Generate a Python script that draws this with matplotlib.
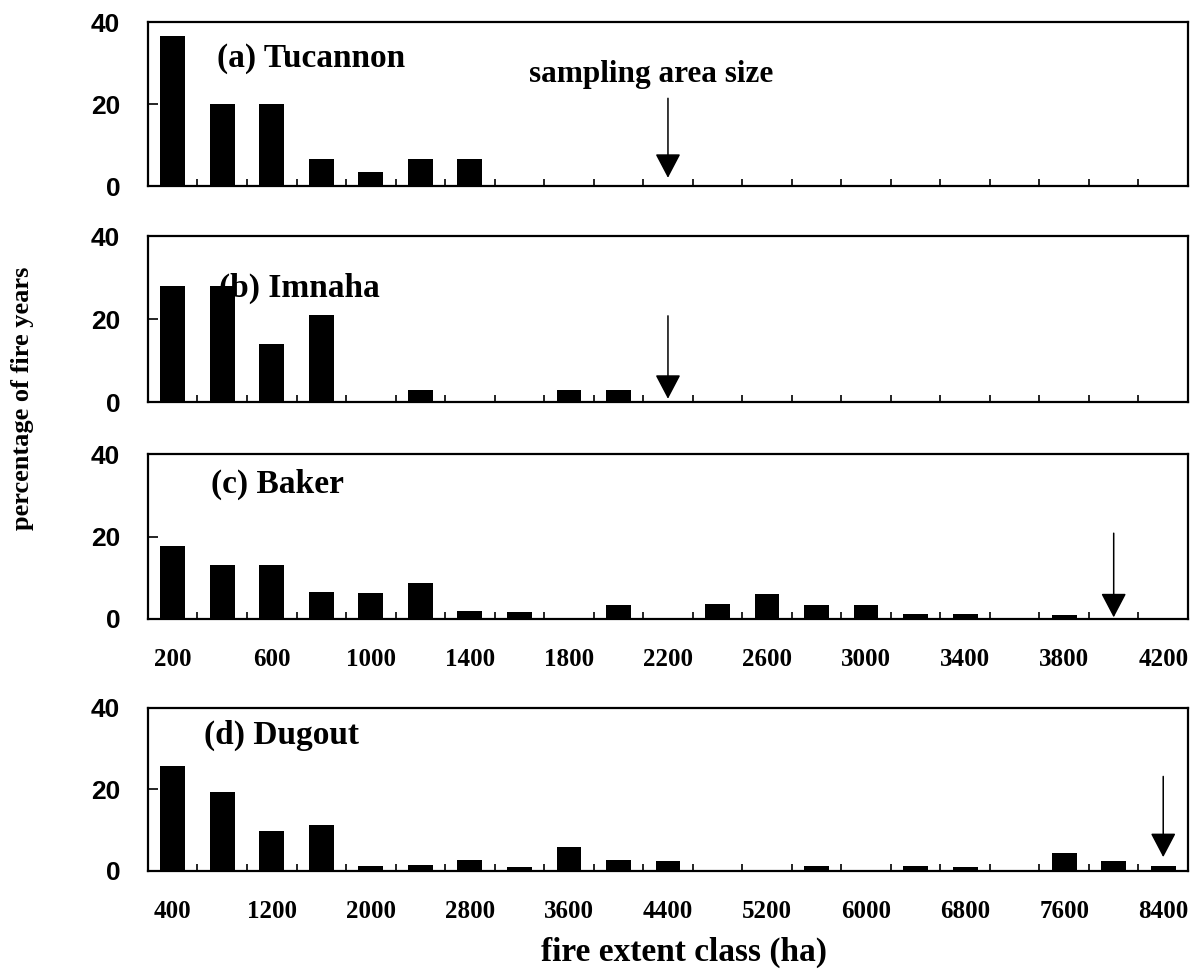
"""
Fire extent class distributions for four study areas.

Four stacked bar panels with the sampling area size marked by an arrow.
"""

import matplotlib

matplotlib.use("Agg")

import matplotlib.pyplot as plt
import numpy as np

SERIF = "Liberation Serif"
SANS = "Liberation Sans"

# fire extent classes (ha), panels a-c use 200 ha classes, panel d 400 ha
classes_200 = [200, 400, 600, 800, 1000, 1200, 1400, 1600, 1800, 2000, 2200,
               2400, 2600, 2800, 3000, 3200, 3400, 3600, 3800, 4000, 4200]
classes_400 = [400, 800, 1200, 1600, 2000, 2400, 2800, 3200, 3600, 4000, 4400,
               4800, 5200, 5600, 6000, 6400, 6800, 7200, 7600, 8000, 8400]

# percentage of fire years in each class
tucannon = [36.7, 20.0, 20.0, 6.7, 3.3, 6.7, 6.7, 0, 0, 0, 0,
            0, 0, 0, 0, 0, 0, 0, 0, 0, 0]
imnaha = [28.0, 28.0, 14.0, 21.0, 0, 3.0, 0, 0, 2.8, 2.8, 0,
          0, 0, 0, 0, 0, 0, 0, 0, 0, 0]
baker = [17.7, 13.2, 13.0, 6.5, 6.3, 8.7, 1.9, 1.6, 0, 3.4, 0,
         3.6, 6.0, 3.5, 3.3, 1.3, 1.3, 0, 1.0, 0, 0]
dugout = [25.7, 19.3, 9.7, 11.3, 1.3, 1.4, 2.8, 1.1, 6.0, 2.6, 2.5,
          0, 0, 1.2, 0, 1.2, 1.0, 0, 4.3, 2.5, 1.3]

panel_titles = ["(a) Tucannon", "(b) Imnaha", "(c) Baker", "(d) Dugout"]

# sampling area size (ha) for each panel
sampling_size = [2200, 2200, 4000, 8400]

# tick labels shown under panels c and d
labels_200 = ["200", "600", "1000", "1400", "1800", "2200",
              "2600", "3000", "3400", "3800", "4200"]
labels_400 = ["400", "1200", "2000", "2800", "3600", "4400",
              "5200", "6000", "6800", "7600", "8400"]


def draw_panel(ax, classes, values, title, sample, tick_labels, arrow_y):
    """
    One bar panel on a class-index axis.
    """
    idx = np.arange(len(classes))
    ax.bar(idx, values, width=0.5, color="black")

    ax.set_xlim(-0.5, len(classes) - 0.5)
    ax.set_ylim(0, 40)

    ax.set_yticks([0, 20, 40])
    ax.set_yticklabels(["0", "20", "40"], family=SANS, fontweight="bold",
                       fontsize=19)
    ax.tick_params(axis="y", direction="in", length=7, width=1.2, pad=20)

    ax.set_xticks(idx[::2])
    if tick_labels is None:
        ax.set_xticklabels([])
    else:
        ax.set_xticklabels(tick_labels, family=SERIF, fontweight="bold",
                           fontsize=18)
    ax.tick_params(axis="x", which="major", length=0, pad=21)
    ax.set_xticks(idx[:-1] + 0.5, minor=True)
    ax.tick_params(axis="x", which="minor", direction="in", length=5,
                   width=1.2)

    for side in ax.spines.values():
        side.set_linewidth(1.6)

    ax.text(title[1], title[2], title[0], family=SERIF, fontweight="bold",
            fontsize=24, ha="left", va="center")

    x_arrow = classes.index(sample)
    ax.annotate(
        "",
        xy=(x_arrow, arrow_y[1]),
        xytext=(x_arrow, arrow_y[0]),
        arrowprops=dict(arrowstyle="-|>,head_length=0.8,head_width=0.42",
                        mutation_scale=19, color="black", lw=1.1,
                        shrinkA=0, shrinkB=0),
    )


def main() -> None:
    fig = plt.figure(figsize=(11.96, 9.76), dpi=100)

    positions = [
        [0.1237, 0.8094, 0.8696, 0.168],
        [0.1237, 0.588, 0.8696, 0.170],
        [0.1237, 0.3658, 0.8696, 0.169],
        [0.1237, 0.1076, 0.8696, 0.167],
    ]
    series = [
        (classes_200, tucannon, None),
        (classes_200, imnaha, None),
        (classes_200, baker, labels_200),
        (classes_400, dugout, labels_400),
    ]
    # title placement (x index, y value) and arrow (tail, tip) per panel
    title_pos = [(0.9, 31.0), (0.94, 27.5), (0.78, 32.7), (0.64, 33.4)]
    arrow_ys = [(21.4, 2.0), (20.8, 0.8), (20.8, 0.4), (23.2, 3.4)]

    axes = []
    for pos, (cls, vals, labs), name, tpos, samp, ay in zip(
        positions, series, panel_titles, title_pos, sampling_size, arrow_ys
    ):
        ax = fig.add_axes(pos)
        draw_panel(ax, cls, vals, (name, tpos[0], tpos[1]), samp, labs, ay)
        axes.append(ax)

    axes[0].text(9.65, 27.3, "sampling area size", family=SERIF,
                 fontweight="bold", fontsize=22.5, ha="center", va="center")

    fig.text(0.019, 0.592, "percentage of fire years", family=SERIF,
             fontweight="bold", fontsize=19, rotation=90,
             ha="center", va="center")
    fig.text(0.572, 0.024, "fire extent class (ha)", family=SERIF,
             fontweight="bold", fontsize=24, ha="center", va="center")

    fig.savefig("out.png", dpi=100)
    plt.close(fig)


if __name__ == "__main__":
    main()
